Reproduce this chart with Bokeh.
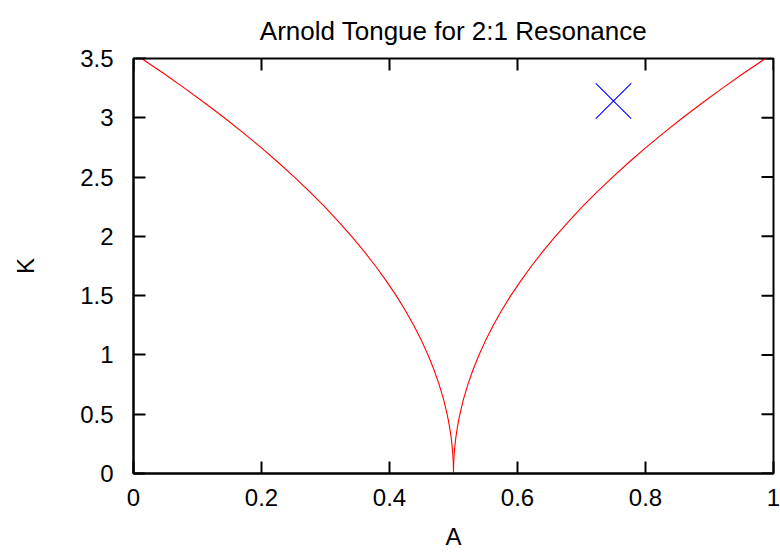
import math
from bokeh.plotting import figure
from bokeh.models import Range1d, FixedTicker
from bokeh.embed import file_html
from bokeh.resources import INLINE

# Data (tongue boundaries, K vs A)
K_vals = [0, 0.05, 0.1, 0.15, 0.2, 0.25, 0.3, 0.35, 0.4, 0.45, 0.5, 0.625, 0.75,
          0.875, 1.0, 1.125, 1.25, 1.375, 1.5, 1.625, 1.75, 1.875, 2.0, 2.125,
          2.25, 2.375, 2.5, 2.625, 2.75, 2.875, 3.0, 3.125, 3.25, 3.375, 3.5]
A_left = [0.5, 0.4999, 0.4996, 0.4991, 0.4984, 0.4975, 0.4964, 0.4951, 0.4936,
          0.4919, 0.490, 0.4845, 0.4776, 0.4695, 0.4602, 0.4496, 0.4378, 0.4248,
          0.4105, 0.3949, 0.3781, 0.3601, 0.3408, 0.3203, 0.2986, 0.2756, 0.2513,
          0.2258, 0.1991, 0.1711, 0.1419, 0.1114, 0.0797, 0.0468, 0.0126]
A_right = [0.5, 0.5001, 0.5004, 0.5009, 0.5016, 0.5025, 0.5036, 0.5049, 0.5064,
           0.5081, 0.510, 0.5155, 0.5224, 0.5305, 0.5398, 0.5504, 0.5622, 0.5752,
           0.5895, 0.6051, 0.6219, 0.6399, 0.6592, 0.6797, 0.7014, 0.7244, 0.7487,
           0.7742, 0.8009, 0.8289, 0.8581, 0.8886, 0.9203, 0.9532, 0.9874]
point_A = [0.75]
point_K = [3.14159]

title_text = "Arnold Tongue for 2:1 Resonance"
x_min, x_max = 0, 1
y_min, y_max = 0, 3.5
x_ticks = [0, 0.2, 0.4, 0.6, 0.8, 1]
x_tick_labels = ["0", "0.2", "0.4", "0.6", "0.8", "1"]
y_ticks = [0, 0.5, 1, 1.5, 2, 2.5, 3, 3.5]
y_tick_labels = ["0", "0.5", "1", "1.5", "2", "2.5", "3", "3.5"]

FONT = "Liberation Sans"
TICK_LEN = 12

p = figure(width=780, height=552, x_range=Range1d(x_min, x_max),
           y_range=Range1d(y_min, y_max),
           output_backend="svg", toolbar_location=None,
           min_border_left=133, min_border_right=7, min_border_top=58,
           min_border_bottom=79, title=title_text)
p.grid.visible = False
p.outline_line_color = "black"
p.outline_line_width = 2
p.background_fill_color = "white"
p.border_fill_color = "white"

p.title.text_font = FONT
p.title.text_font_size = "26px"
p.title.text_font_style = "normal"
p.title.align = "center"
p.title.text_color = "black"
p.title.standoff = 25

xa = p.below[0]
ya = p.left[0]

def style_axis(ax, ticks, labels):
    ax.ticker = FixedTicker(ticks=ticks)
    ax.major_label_overrides = {t: l for t, l in zip(ticks, labels)}
    ax.major_tick_in = TICK_LEN
    ax.major_tick_out = 0
    ax.minor_tick_in = 0
    ax.minor_tick_out = 0
    ax.axis_line_width = 2
    ax.axis_line_color = "black"
    ax.major_tick_line_width = 2
    ax.major_tick_line_color = "black"
    ax.major_label_text_font = FONT
    ax.major_label_text_color = "black"
    ax.major_label_text_font_size = "24px"
    ax.major_label_text_line_height = 1.0
    ax.axis_label_text_font = FONT
    ax.axis_label_text_font_size = "24px"
    ax.axis_label_text_font_style = "normal"
    ax.axis_label_text_color = "black"
    ax.axis_label_text_line_height = 1.0

style_axis(xa, x_ticks, x_tick_labels)
xa.major_label_standoff = 15
xa.axis_label = "A"
xa.axis_label_standoff = 14

style_axis(ya, y_ticks, y_tick_labels)
ya.major_label_standoff = 20
ya.axis_label = "K"
ya.axis_label_standoff = 38

# mirrored inward ticks on the top and right edges
p.ray(x=x_ticks, y=[y_max] * len(x_ticks), length=TICK_LEN, length_units="screen",
      angle=-math.pi / 2, line_color="black", line_width=2)
p.ray(x=[x_max] * len(y_ticks), y=y_ticks, length=TICK_LEN, length_units="screen",
      angle=math.pi, line_color="black", line_width=2)

p.line(A_left, K_vals, line_color="#ff0000", line_width=1.1)
p.line(A_right, K_vals, line_color="#ff0000", line_width=1.1)
p.scatter(point_A, point_K, marker="x", size=50, line_color="#0000ff", line_width=1.1)

open("out.html", "w").write(file_html(p, INLINE))
